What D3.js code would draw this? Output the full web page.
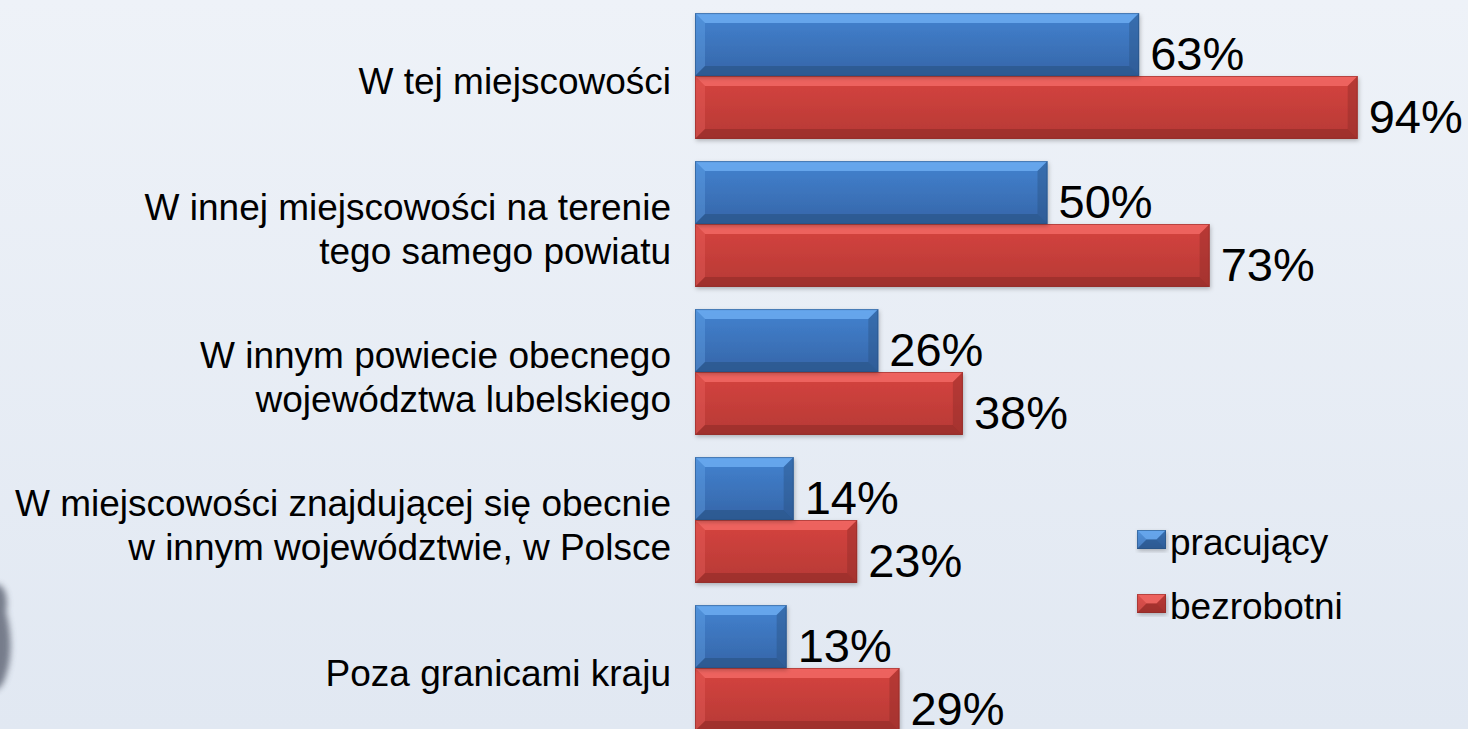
<!DOCTYPE html>
<html>
<head>
<meta charset="utf-8">
<script src="https://cdn.jsdelivr.net/npm/d3@7"></script>
<style>
  html, body { margin: 0; padding: 0; overflow: hidden; }
  svg { display: block; font-family: "Liberation Sans", Arial, sans-serif; }
</style>
</head>
<body>
<svg id="chart" width="1468" height="729"></svg>
<script>
// data
const categories = [
  "W tej miejscowości",
  "W innej miejscowości na terenie\ntego samego powiatu",
  "W innym powiecie obecnego\nwojewództwa lubelskiego",
  "W miejscowości znajdującej się obecnie\nw innym województwie, w Polsce",
  "Poza granicami kraju"
];
const seriesNames = ["pracujący", "bezrobotni"];
const pracujacy = [63, 50, 26, 14, 13];
const bezrobotni = [94, 73, 38, 23, 29];

const width = 1468, height = 729;
const svg = d3.select("#chart");
const defs = svg.append("defs");

// background
const bg = defs.append("linearGradient").attr("id", "bg")
  .attr("x1", 0).attr("y1", 0).attr("x2", 0).attr("y2", 1);
bg.append("stop").attr("offset", 0).attr("stop-color", "#eef2f8");
bg.append("stop").attr("offset", 1).attr("stop-color", "#e1e8f2");
svg.append("rect").attr("width", width).attr("height", height).attr("fill", "url(#bg)");

// faint blurred logo at the left edge
defs.append("filter").attr("id", "blur").attr("x", "-50%").attr("width", "200%")
  .append("feGaussianBlur").attr("stdDeviation", 3);
svg.append("path")
  .attr("d", "M-10,585 C4,580 9,595 6,612 C11,630 13,655 6,675 C2,690 -6,692 -10,690 Z")
  .attr("fill", "#4a5060").attr("opacity", 0.7).attr("filter", "url(#blur)");

// bar colours: light edge, body top, body bottom, dark edge
const palette = {
  "pracujący": { hi: "#72b2f5", top: "#4383d0", bot: "#3565a8", lo: "#27507f" },
  "bezrobotni": { hi: "#f56e6a", top: "#d6443f", bot: "#b63935", lo: "#8c2a27" }
};

seriesNames.forEach((s, i) => {
  const g = defs.append("linearGradient").attr("id", "grad" + i)
    .attr("x1", 0).attr("y1", 0).attr("x2", 0).attr("y2", 1);
  g.append("stop").attr("offset", 0).attr("stop-color", palette[s].top);
  g.append("stop").attr("offset", 1).attr("stop-color", palette[s].bot);
});

const shadow = defs.append("filter").attr("id", "shadow")
  .attr("x", "-5%").attr("y", "-10%").attr("width", "115%").attr("height", "130%");
shadow.append("feDropShadow").attr("dx", 1).attr("dy", 2).attr("stdDeviation", 2)
  .attr("flood-color", "#000").attr("flood-opacity", 0.25);

// scales
const x = d3.scaleLinear().domain([0, 100]).range([695, 1400]);
const y = d3.scaleBand().domain(categories).range([2, 742])
  .paddingInner(0.15).paddingOuter(0.075);
const ySub = d3.scaleBand().domain(seriesNames).range([0, y.bandwidth()]);

const rows = categories.map((c, i) => ({
  cat: c,
  vals: [
    { s: seriesNames[0], v: pracujacy[i], gi: 0 },
    { s: seriesNames[1], v: bezrobotni[i], gi: 1 }
  ]
}));

// bevelled bar
function bevelBar(sel, x0, y0, w, h, s, gi) {
  const b = Math.min(10, w / 2, h / 2);
  const p = palette[s];
  sel.append("rect").attr("x", x0).attr("y", y0).attr("width", w).attr("height", h)
    .attr("fill", `url(#grad${gi})`).attr("filter", "url(#shadow)");
  // top
  sel.append("path")
    .attr("d", `M${x0},${y0}H${x0 + w}L${x0 + w - b},${y0 + b}H${x0 + b}Z`)
    .attr("fill", p.hi).attr("opacity", 0.75);
  // left
  sel.append("path")
    .attr("d", `M${x0},${y0}L${x0 + b},${y0 + b}V${y0 + h - b}L${x0},${y0 + h}Z`)
    .attr("fill", p.hi).attr("opacity", 0.3);
  // right
  sel.append("path")
    .attr("d", `M${x0 + w},${y0}V${y0 + h}L${x0 + w - b},${y0 + h - b}V${y0 + b}Z`)
    .attr("fill", p.lo).attr("opacity", 0.4);
  // bottom
  sel.append("path")
    .attr("d", `M${x0},${y0 + h}H${x0 + w}L${x0 + w - b},${y0 + h - b}H${x0 + b}Z`)
    .attr("fill", p.lo).attr("opacity", 0.55);
  sel.append("rect").attr("x", x0 + 0.5).attr("y", y0 + 0.5).attr("width", w - 1).attr("height", h - 1)
    .attr("fill", "none").attr("stroke", p.lo).attr("stroke-opacity", 0.55).attr("stroke-width", 1);
}

const groups = svg.selectAll("g.group").data(rows).enter()
  .append("g").attr("class", "group")
  .attr("transform", d => `translate(0,${y(d.cat)})`);

// red first so blue's shadow falls on it
groups.each(function(d) {
  const g = d3.select(this);
  d.vals.slice().reverse().forEach(e => {
    bevelBar(g.append("g"), x(0), ySub(e.s), x(e.v) - x(0), ySub.bandwidth(), e.s, e.gi);
  });
  d.vals.forEach(e => {
    g.append("text")
      .attr("x", x(e.v) + 11)
      .attr("y", ySub(e.s) + ySub.bandwidth() - 6)
      .attr("font-size", 47)
      .attr("fill", "#000")
      .text(e.v + "%");
  });
});

// category labels
groups.append("text")
  .attr("text-anchor", "end")
  .attr("font-size", 37)
  .attr("fill", "#000")
  .each(function(d) {
    const lines = d.cat.split("\n");
    const t = d3.select(this);
    lines.forEach((ln, i) => {
      t.append("tspan")
        .attr("x", 671)
        .attr("y", y.bandwidth() / 2)
        .attr("dy", ((i - (lines.length - 1) / 2) * 1.2 + 0.48) + "em")
        .text(ln);
    });
  });

// legend
const legend = svg.append("g").attr("transform", "translate(1137,530)");
seriesNames.forEach((s, i) => {
  const lg = legend.append("g").attr("transform", `translate(0,${i * 64})`);
  bevelBar(lg, 0, 0, 29, 19, s, i);
  lg.append("text").attr("x", 33).attr("y", 25)
    .attr("font-size", 37).attr("fill", "#000").text(s);
});
</script>
</body>
</html>
